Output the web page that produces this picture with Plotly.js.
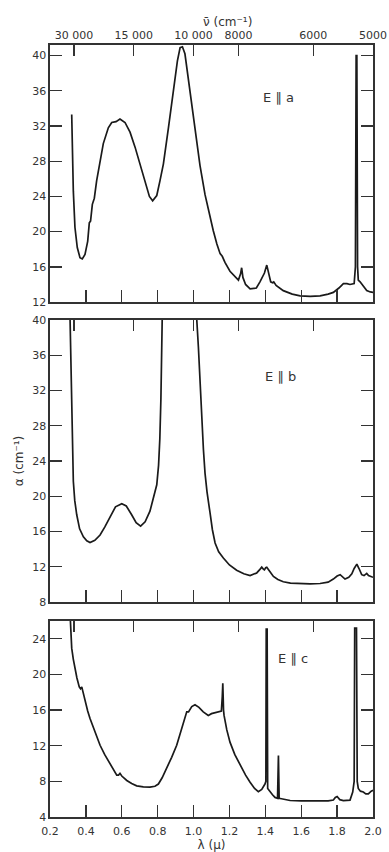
<!DOCTYPE html>
<html>
<head>
<meta charset="utf-8">
<script src="https://cdn.plot.ly/plotly-3.0.1.min.js"></script>
<style>html,body{margin:0;padding:0;background:#fff;}#chart{width:389px;height:852px;}</style>
</head>
<body>
<div id="chart"></div>
<script>
// ---- Data ----
// Panel E || a
const lamA = [0.321,0.324,0.330,0.339,0.352,0.367,0.380,0.395,0.410,0.419,0.426,0.436,0.447,0.460,0.479,0.497,0.525,0.544,0.568,0.590,0.618,0.646,0.674,0.702,0.730,0.754,0.772,0.795,0.813,0.832,0.860,0.887,0.910,0.925,0.938,0.952,0.967,0.980,1.008,1.036,1.064,1.092,1.110,1.130,1.148,1.160,1.175,1.203,1.230,1.250,1.262,1.268,1.275,1.290,1.315,1.350,1.370,1.385,1.395,1.408,1.420,1.430,1.440,1.447,1.460,1.500,1.550,1.594,1.650,1.705,1.750,1.779,1.810,1.835,1.855,1.872,1.895,1.902,1.906,1.910,1.914,1.918,1.928,1.945,1.965,1.985,2.000];
const alphaA = [33.3,30.3,24.6,20.5,18.2,17.05,16.9,17.4,18.9,21.0,21.2,23.1,23.8,25.8,28.0,30.0,31.8,32.4,32.5,32.8,32.4,31.3,29.6,27.7,25.6,24.0,23.5,24.1,25.8,27.7,31.8,36.0,39.4,40.9,41.0,40.2,37.9,36.0,31.6,27.5,24.2,21.5,20.1,18.6,17.5,17.2,16.5,15.5,14.9,14.5,15.2,15.9,14.8,14.0,13.5,13.6,14.3,14.9,15.3,16.2,15.2,14.3,14.2,14.3,13.9,13.3,12.9,12.7,12.65,12.7,12.9,13.1,13.6,14.1,14.1,14.0,14.1,16.0,40.0,40.0,16.0,14.5,14.3,13.8,13.3,13.15,13.1];

// Panel E || b
const lamB = [0.306,0.312,0.318,0.321,0.326,0.330,0.338,0.349,0.365,0.386,0.405,0.423,0.450,0.479,0.505,0.534,0.565,0.600,0.625,0.655,0.680,0.705,0.730,0.757,0.780,0.795,0.805,0.812,0.818,0.823,0.827,0.830,1.010,1.018,1.027,1.036,1.046,1.055,1.064,1.075,1.092,1.105,1.120,1.140,1.166,1.200,1.240,1.280,1.315,1.352,1.370,1.380,1.390,1.395,1.402,1.408,1.420,1.445,1.470,1.500,1.540,1.575,1.650,1.705,1.750,1.779,1.800,1.817,1.830,1.844,1.865,1.882,1.895,1.910,1.922,1.937,1.950,1.965,1.975,1.984,2.000];
const alphaB = [46,40,33,29.3,25,21.7,19.5,17.9,16.3,15.4,14.95,14.75,15.0,15.6,16.5,17.7,18.8,19.15,18.9,17.9,17.0,16.6,17.1,18.3,20.0,21.3,23.5,26.5,31,36.9,41,46,46,40,36.9,33.0,28.5,25.3,22.6,20.5,18.1,16.2,14.7,13.7,13.0,12.2,11.6,11.2,11.0,11.3,11.7,11.95,11.7,11.65,11.9,11.95,11.6,10.9,10.55,10.3,10.15,10.1,10.05,10.1,10.25,10.6,10.95,11.1,10.8,10.6,10.8,11.2,11.8,12.3,11.8,11.1,11.0,11.25,11.0,10.9,10.8];

// Panel E || c
const lamC = [0.309,0.315,0.321,0.330,0.339,0.350,0.363,0.370,0.377,0.385,0.395,0.410,0.423,0.450,0.479,0.505,0.534,0.555,0.572,0.582,0.590,0.600,0.628,0.655,0.683,0.720,0.757,0.785,0.804,0.825,0.850,0.878,0.906,0.930,0.952,0.962,0.972,0.990,1.008,1.030,1.054,1.082,1.100,1.129,1.155,1.160,1.163,1.167,1.170,1.185,1.203,1.230,1.259,1.290,1.315,1.340,1.361,1.380,1.398,1.403,1.405,1.410,1.413,1.426,1.440,1.454,1.468,1.473,1.477,1.490,1.538,1.600,1.687,1.750,1.779,1.790,1.800,1.815,1.835,1.872,1.887,1.895,1.898,1.908,1.912,1.918,1.930,1.946,1.960,1.974,1.990,2.000];
const alphaC = [28,24.5,22.95,21.7,20.7,19.6,18.6,18.4,18.6,17.9,16.9,15.9,15.05,13.5,12.05,11.0,10.0,9.3,8.7,8.7,8.9,8.6,8.1,7.75,7.5,7.38,7.35,7.45,7.7,8.4,9.4,10.7,12.05,13.7,15.4,15.8,15.8,16.4,16.6,16.3,15.8,15.4,15.6,15.8,15.9,17.5,19.0,16.0,15.4,13.8,12.4,11.0,9.8,8.7,7.9,7.2,6.85,7.1,7.7,8.0,25.1,25.1,7.2,6.8,6.5,6.2,6.1,10.9,6.1,6.05,5.85,5.8,5.8,5.8,5.9,6.2,6.3,5.95,5.85,5.9,6.8,8.0,25.2,25.2,8.0,7.2,6.9,6.8,6.6,6.6,6.9,7.0];

// Tick labels
const lamTicks = [0.2,0.4,0.6,0.8,1.0,1.2,1.4,1.6,1.8,2.0];
const lamTickText = ['0.2','0.4','0.6','0.8','1.0','1.2','1.4','1.6','1.8','2.0'];
const waveNumbers = [30000,15000,10000,8000,6000,5000];
const waveTickText = ['30 000','15 000','10 000','8000','6000','5000'];
const yTicksA = [12,16,20,24,28,32,36,40];
const yTicksB = [8,12,16,20,24,28,32,36,40];
const yTicksC = [4,8,12,16,20,24];
const panelLabels = ['E ∥ a','E ∥ b','E ∥ c'];

// ---- Build ----
const waveTickVals = waveNumbers.map(n => 1e4 / n);
const innerLam = lamTicks.slice(1, -1);
const lineStyle = {color:'#1a1a1a', width:1.7};
const frame = '#333';

function mkTrace(x, y, xa, ya) {
  return {x:x, y:y, xaxis:xa, yaxis:ya, type:'scatter', mode:'lines', line:lineStyle, hoverinfo:'skip', showlegend:false};
}
const traces = [
  mkTrace(lamA, alphaA, 'x', 'y'),
  mkTrace(lamB, alphaB, 'x2', 'y2'),
  mkTrace(lamC, alphaC, 'x3', 'y3'),
  {x:[null], y:[null], xaxis:'x4', yaxis:'y', type:'scatter', mode:'lines', showlegend:false, hoverinfo:'skip'},
  {x:[null], y:[null], xaxis:'x5', yaxis:'y2', type:'scatter', mode:'lines', showlegend:false, hoverinfo:'skip'},
  {x:[null], y:[null], xaxis:'x6', yaxis:'y3', type:'scatter', mode:'lines', showlegend:false, hoverinfo:'skip'}
];

function xBottom(anchor, labels) {
  return {
    anchor: anchor, domain:[0,1], range:[0.2,2.0], fixedrange:true,
    tickmode:'array', tickvals: labels ? lamTicks : innerLam, ticktext: labels ? lamTickText : undefined,
    showticklabels: !!labels, ticks:'inside', ticklen:12, tickwidth:1.3, tickcolor:frame,
    showline:true, linewidth:1.6, linecolor:frame, showgrid:false, zeroline:false,
    tickfont:{size:11, color:'#333'}
  };
}
function xTop(over, anchor, labels) {
  return {
    overlaying: over, anchor: anchor, side:'top', range:[0.2,2.0], fixedrange:true,
    tickmode:'array', tickvals: waveTickVals, ticktext: waveTickText,
    showticklabels: labels, ticks:'inside', ticklen:11, tickwidth:1.3, tickcolor:frame,
    showline:true, linewidth:1.6, linecolor:frame, showgrid:false, zeroline:false,
    tickfont:{size:11, color:'#333'}
  };
}
function yAx(anchor, dom, rng, tv) {
  return {
    anchor: anchor, domain: dom, range: rng, fixedrange:true,
    tickmode:'array', tickvals: tv, ticks:'inside', ticklen:12, tickwidth:1.3, tickcolor:frame,
    mirror:'ticks', showline:true, linewidth:1.6, linecolor:frame, showgrid:false, zeroline:false,
    tickfont:{size:11, color:'#333'}
  };
}

const layout = {
  width:389, height:852,
  margin:{l:50, r:16, t:45, b:35},
  paper_bgcolor:'#fff', plot_bgcolor:'#fff',
  font:{family:'DejaVu Sans, sans-serif', size:11, color:'#333'},
  showlegend:false,
  xaxis: xBottom('y', false),
  xaxis2: xBottom('y2', false),
  xaxis3: Object.assign(xBottom('y3', true), {ticklabelstandoff:3, title:{text:'λ (μ)', standoff:1, font:{size:12, color:'#333'}}}),
  xaxis4: xTop('x', 'y', true),
  xaxis5: xTop('x2', 'y2', false),
  xaxis6: xTop('x3', 'y3', false),
  yaxis: yAx('x', [0.667, 1.0], [12, 41.2], yTicksA),
  yaxis2: Object.assign(yAx('x2', [0.2785, 0.6438], [8, 40], yTicksB), {title:{text:'α (cm⁻¹)', standoff:6, font:{size:12, color:'#333'}}}),
  yaxis3: yAx('x3', [0, 0.2539], [4, 26], yTicksC),
  annotations: [
    {text:'ν̄ (cm⁻¹)', xref:'paper', yref:'paper', x:0.551, y:1.030, showarrow:false, font:{size:12, color:'#333'}, xanchor:'center', yanchor:'middle'},
    {text:panelLabels[0], xref:'paper', yref:'paper', x:0.762, y:0.944, showarrow:false, font:{size:13, color:'#333'}},
    {text:panelLabels[1], xref:'paper', yref:'paper', x:0.768, y:0.570, showarrow:false, font:{size:13, color:'#333'}},
    {text:panelLabels[2], xref:'paper', yref:'paper', x:0.805, y:0.193, showarrow:false, font:{size:13, color:'#333'}}
  ]
};

Plotly.newPlot('chart', traces, layout, {staticPlot:true, displayModeBar:false});
</script>
</body>
</html>
